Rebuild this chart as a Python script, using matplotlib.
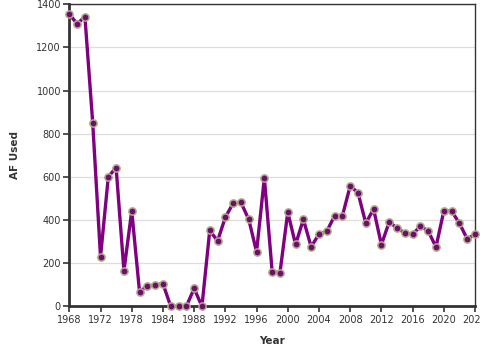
import matplotlib
matplotlib.use("Agg")
import matplotlib.pyplot as plt

# yearly values
years = list(range(1968, 2021))
af_used = [1355, 1309, 1343, 850, 230, 601, 643, 165, 442, 68,
           94, 99, 105, 0, 0, 0, 83, 0, 352, 303,
           413, 478, 482, 403, 253, 595, 160, 156, 436, 287,
           403, 276, 335, 348, 419, 419, 558, 527, 385, 451,
           286, 391, 363, 340, 334, 372, 349, 275, 442, 442,
           385, 313, 334]

tick_pos = list(range(1968, 2021, 4))
tick_labels = ["1968", "1972", "1978", "1984", "1988", "1992", "1996",
               "2000", "2004", "2008", "2012", "2016", "2020", "2024"]
y_ticks = [0, 200, 400, 600, 800, 1000, 1200, 1400]

fig = plt.figure(figsize=(4.8, 3.6), dpi=100)
ax = fig.add_axes([0.1444, 0.149, 0.8452, 0.839])

ax.plot(years, af_used, color="#800080", lw=2.4, zorder=3, clip_on=False,
        marker="o", markersize=5.2, markerfacecolor="#6b0f6b",
        markeredgecolor="#b3a888", markeredgewidth=1.1)

ax.set_xlim(1968, 2020)
ax.set_ylim(0, 1400)
ax.set_xticks(tick_pos)
ax.set_xticklabels(tick_labels)
ax.set_yticks(y_ticks)

ax.yaxis.grid(True, color="#dddddd", lw=0.9)
ax.set_axisbelow(True)

for side in ["left", "bottom"]:
    ax.spines[side].set_linewidth(2)
    ax.spines[side].set_color("#333333")
for side in ["top", "right"]:
    ax.spines[side].set_linewidth(1)
    ax.spines[side].set_color("#333333")

ax.tick_params(axis="both", labelsize=7, colors="#333333", length=4, width=1.2, pad=2)

ax.set_xlabel("Year", fontsize=7.5, fontweight="bold", color="#333333", labelpad=8)
ax.set_ylabel("AF Used", fontsize=7.5, fontweight="bold", color="#333333", labelpad=12)

fig.savefig("out.png", dpi=100)
